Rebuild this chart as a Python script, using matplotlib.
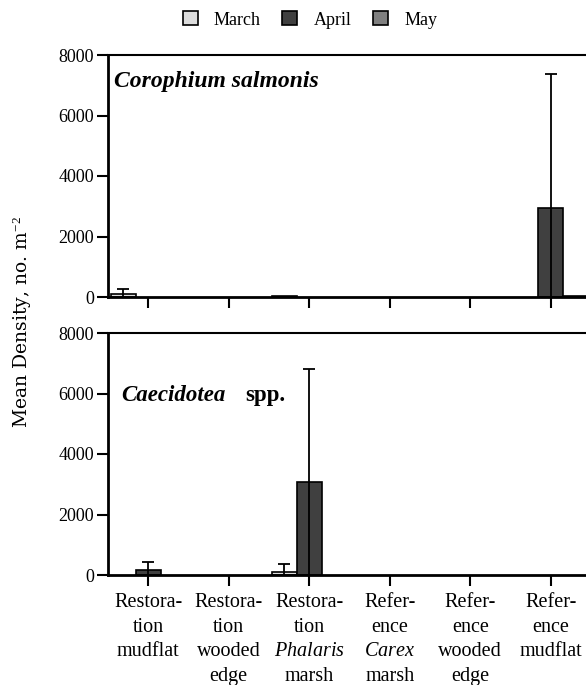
import numpy as np
import matplotlib
matplotlib.use("Agg")
import matplotlib.pyplot as plt
from matplotlib.patches import Patch

# ================= DATA =================
sites = ["Restora-\ntion\nmudflat", "Restora-\ntion\nwooded\nedge",
         "Restora-\ntion\n$\\it{Phalaris}$\nmarsh", "Refer-\nence\n$\\it{Carex}$\nmarsh",
         "Refer-\nence\nwooded\nedge", "Refer-\nence\nmudflat"]
months = ["March", "April", "May"]
colors = ["#dcdcdc", "#404040", "#808080"]

# Corophium salmonis (mean, upper SE)
coro_march = [110, 0, 40, 0, 0, 0]
coro_april = [0, 0, 0, 0, 0, 2950]
coro_may = [0, 0, 0, 0, 0, 40]
coro_march_err = [160, 0, 0, 0, 0, 0]
coro_april_err = [0, 0, 0, 0, 0, 4420]
coro_may_err = [0, 0, 0, 0, 0, 0]

# Caecidotea spp.
caec_march = [0, 0, 100, 0, 0, 0]
caec_april = [160, 0, 3090, 0, 0, 0]
caec_may = [0, 0, 0, 0, 0, 0]
caec_march_err = [0, 0, 260, 0, 0, 0]
caec_april_err = [260, 0, 3720, 0, 0, 0]
caec_may_err = [0, 0, 0, 0, 0, 0]

# ================= PLOT =================
plt.rcParams["font.family"] = ["Liberation Serif", "DejaVu Serif"]
plt.rcParams["mathtext.fontset"] = "custom"
plt.rcParams["mathtext.it"] = "Liberation Serif:italic"
plt.rcParams["mathtext.rm"] = "Liberation Serif"

W, H = 586, 685
fig = plt.figure(figsize=(W / 100, H / 100), dpi=100)

ax1 = fig.add_axes([108 / W, 1 - 297 / H, 483 / W, 242 / H])
ax2 = fig.add_axes([108 / W, 1 - 575 / H, 483 / W, 242 / H])

x = np.arange(len(sites))
bw = 0.31


def draw_panel(ax, vals, errs):
    for i, (v, e) in enumerate(zip(vals, errs)):
        xs = x + (i - 1) * bw
        h = np.where(np.array(v) > 0, v, np.nan)  # empty bars are not drawn
        ax.bar(xs, h, width=bw, color=colors[i], edgecolor="black", linewidth=1.2, zorder=2)
        for xi, vi, ei in zip(xs, v, e):
            if ei > 0:
                ax.vlines(xi, 0, vi + ei, color="black", linewidth=1.3, zorder=3)
                ax.hlines(vi + ei, xi - 0.075, xi + 0.075, color="black", linewidth=1.3, zorder=3)
    ax.set_xlim(-0.5, 5.5)
    ax.set_ylim(0, 8000)
    ax.set_yticks([0, 2000, 4000, 6000, 8000])
    ax.set_xticks(x)
    ax.spines["right"].set_visible(False)
    ax.spines["left"].set_linewidth(2)
    ax.spines["bottom"].set_linewidth(2)
    ax.spines["top"].set_linewidth(1.5)
    ax.tick_params(axis="both", direction="out", length=8, width=1.5, labelsize=13)
    ax.tick_params(axis="y", pad=2)


draw_panel(ax1, [coro_march, coro_april, coro_may], [coro_march_err, coro_april_err, coro_may_err])
draw_panel(ax2, [caec_march, caec_april, caec_may], [caec_march_err, caec_april_err, caec_may_err])

ax1.set_xticklabels([])
ax2.set_xticklabels(sites, fontsize=14.5, linespacing=1.4, va="top")
ax2.tick_params(axis="x", pad=5)

ax1.text(0.012, 0.89, "Corophium salmonis", transform=ax1.transAxes, fontsize=17,
         fontweight="bold", fontstyle="italic", va="center")
ax2.text(0.027, 0.74, "Caecidotea", transform=ax2.transAxes, fontsize=16.5,
         fontweight="bold", fontstyle="italic", va="center")
ax2.text(0.284, 0.74, "spp.", transform=ax2.transAxes, fontsize=16.5,
         fontweight="bold", va="center")

fig.text(22 / W, 1 - 322 / H, "Mean Density, no. m$^{-2}$", rotation=90, fontsize=13.5,
         family="DejaVu Serif", va="center", ha="center")

handles = [Patch(facecolor=c, edgecolor="black", linewidth=1.2) for c in colors]
fig.legend(handles, months, loc="center", bbox_to_anchor=(310 / W, 1 - 20 / H), ncol=3,
           frameon=False, fontsize=13, handlelength=0.83, handleheight=0.83,
           columnspacing=1.2, handletextpad=0.9, borderpad=0)

fig.savefig("out.png", dpi=100)
